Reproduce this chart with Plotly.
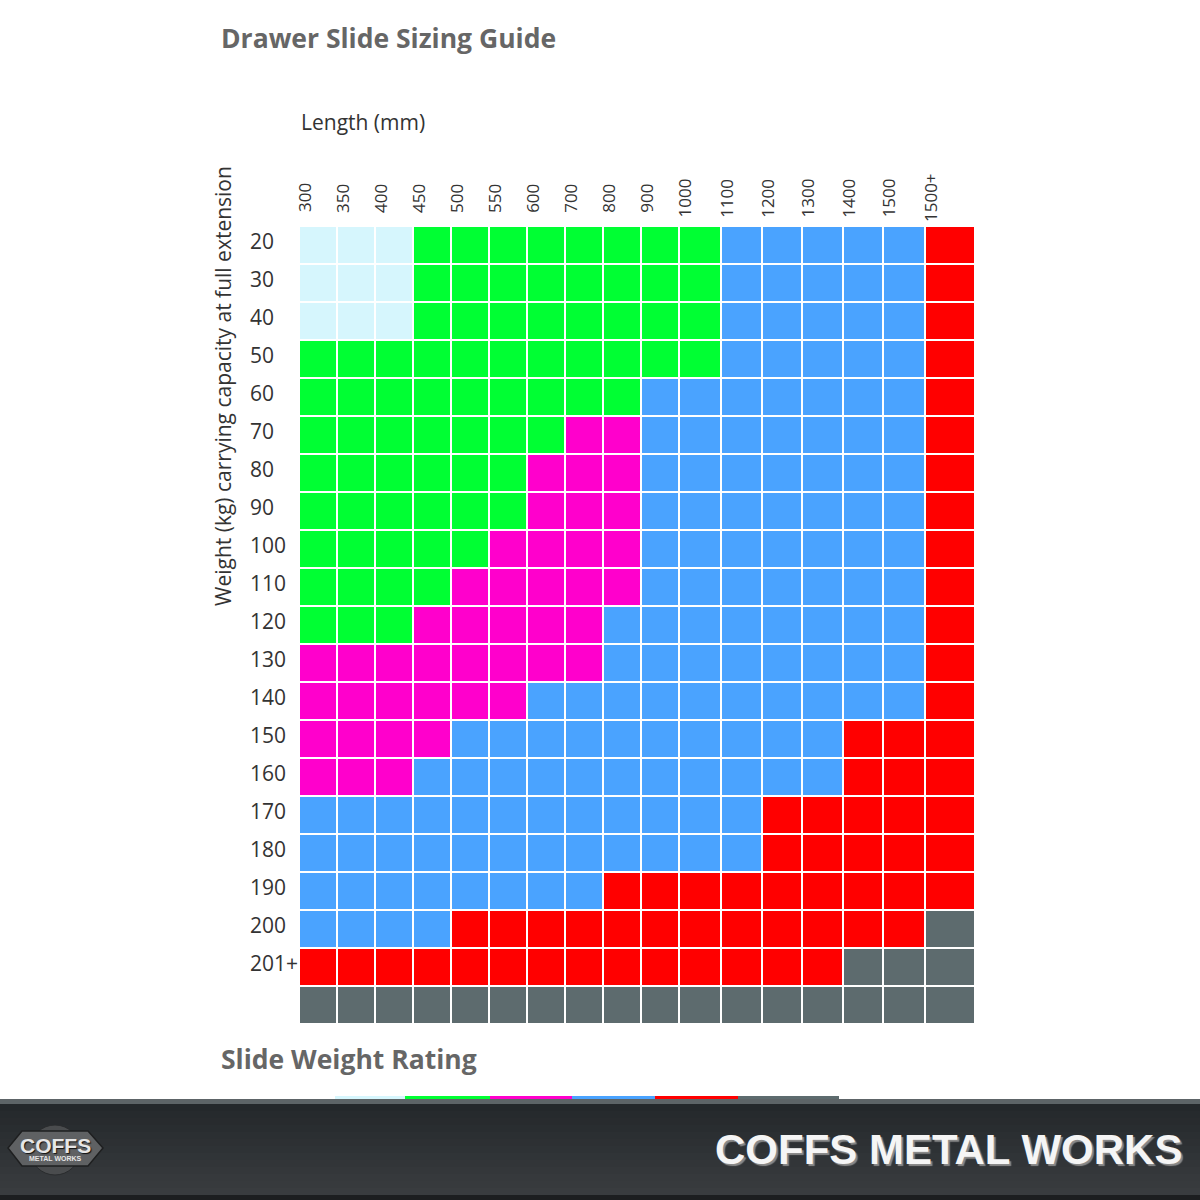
import plotly.graph_objects as go

# ---------------- data ----------------
LENGTHS = ["300", "350", "400", "450", "500", "550", "600", "700", "800", "900",
           "1000", "1100", "1200", "1300", "1400", "1500", "1500+"]
WEIGHTS = ["20", "30", "40", "50", "60", "70", "80", "90", "100", "110", "120",
           "130", "140", "150", "160", "170", "180", "190", "200", "201+", ""]

# rating code per cell (row = weight, column = length)
RATING_CODES = ["C", "G", "M", "B", "R", "X"]
RATING_COLORS = ["#d6f6fd", "#00ff33", "#ff00cc", "#4aa3ff", "#ff0000", "#5d6b6e"]

GRID = [
    "CCCGGGGGGGGBBBBBR",  # 20
    "CCCGGGGGGGGBBBBBR",  # 30
    "CCCGGGGGGGGBBBBBR",  # 40
    "GGGGGGGGGGGBBBBBR",  # 50
    "GGGGGGGGGBBBBBBBR",  # 60
    "GGGGGGGMMBBBBBBBR",  # 70
    "GGGGGGMMMBBBBBBBR",  # 80
    "GGGGGGMMMBBBBBBBR",  # 90
    "GGGGGMMMMBBBBBBBR",  # 100
    "GGGGMMMMMBBBBBBBR",  # 110
    "GGGMMMMMBBBBBBBBR",  # 120
    "MMMMMMMMBBBBBBBBR",  # 130
    "MMMMMMBBBBBBBBBBR",  # 140
    "MMMMBBBBBBBBBBRRR",  # 150
    "MMMBBBBBBBBBBBRRR",  # 160
    "BBBBBBBBBBBBRRRRR",  # 170
    "BBBBBBBBBBBBRRRRR",  # 180
    "BBBBBBBBRRRRRRRRR",  # 190
    "BBBBRRRRRRRRRRRRX",  # 200
    "RRRRRRRRRRRRRRXXX",  # 201+
    "XXXXXXXXXXXXXXXXX",  # (blank)
]

# ---------------- layout constants ----------------
COL_WIDTHS_PX = [38, 38, 38, 38, 38, 38, 38, 38, 38, 38.7, 41.4, 41, 40.6, 40.4, 40.6, 41.7, 50]
FIG_W, FIG_H = 1200, 1200
PLOT_L, PLOT_R, PLOT_T, PLOT_B = 299, 975, 226, 1024
PW, PH = PLOT_R - PLOT_L, PLOT_B - PLOT_T

def pxx(x):
    return (x - PLOT_L) / PW

def pxy(y):
    return (PLOT_B - y) / PH

assert all(len(r) == len(LENGTHS) for r in GRID) and len(GRID) == len(WEIGHTS)

edges = [0.0]
for w in COL_WIDTHS_PX:
    edges.append(edges[-1] + w)

z = [[RATING_CODES.index(c) for c in row] for row in GRID]
n = len(RATING_COLORS)
colorscale = []
for i, c in enumerate(RATING_COLORS):
    colorscale.append([i / n, c])
    colorscale.append([(i + 1) / n, c])

TEXT = "#333333"
HEAD = "#666666"
FONT = "Open Sans"

fig = go.Figure(go.Heatmap(
    z=z, x=edges, y=list(range(len(WEIGHTS))),
    colorscale=colorscale, zmin=-0.5, zmax=n - 0.5,
    xgap=2, ygap=2, showscale=False, hoverinfo="skip",
))

ann = []
# column header labels (rotated)
for i, lab in enumerate(LENGTHS):
    ann.append(dict(x=edges[i] + 6, xref="x", y=pxy(198), yref="paper",
                    text=lab, textangle=-90, showarrow=False,
                    xanchor="center", yanchor="middle",
                    font=dict(family=FONT, size=17, color=TEXT)))
# row labels (left aligned)
for j, lab in enumerate(WEIGHTS):
    if lab:
        ann.append(dict(x=pxx(248), xref="paper", y=j, yref="y", yshift=4,
                        text=lab, showarrow=False, xanchor="left", yanchor="middle",
                        font=dict(family=FONT, size=21, color=TEXT)))
# axis titles
ann.append(dict(x=pxx(299), xref="paper", y=pxy(122), yref="paper", text="Length (mm)",
                showarrow=False, xanchor="left", yanchor="middle",
                font=dict(family=FONT, size=21, color=TEXT)))
ann.append(dict(x=pxx(223), xref="paper", y=pxy(386), yref="paper",
                text="Weight (kg) carrying capacity at full extension", textangle=-90,
                showarrow=False, xanchor="center", yanchor="middle",
                font=dict(family=FONT, size=21, color=TEXT)))
# headings
ann.append(dict(x=pxx(219), xref="paper", y=pxy(38), yref="paper",
                text="<b>Drawer Slide Sizing Guide</b>", showarrow=False,
                xanchor="left", yanchor="middle",
                font=dict(family=FONT, size=26.5, color=HEAD)))
ann.append(dict(x=pxx(219), xref="paper", y=pxy(1059), yref="paper",
                text="<b>Slide Weight Rating</b>", showarrow=False,
                xanchor="left", yanchor="middle",
                font=dict(family=FONT, size=26.5, color=HEAD)))

shapes = []
# rating colour strip (legend, cut off by footer)
LEG_WIDTHS_PX = [70, 85, 82, 83, 83, 101]
lx = 335
for c, w in zip(RATING_COLORS, LEG_WIDTHS_PX):
    shapes.append(dict(type="rect", xref="paper", yref="paper",
                       x0=pxx(lx), x1=pxx(lx + w), y0=pxy(1099), y1=pxy(1096),
                       fillcolor=c, line=dict(width=0), layer="above"))
    lx += w

# footer
shapes.append(dict(type="rect", xref="paper", yref="paper", x0=pxx(0), x1=pxx(FIG_W),
                   y0=pxy(1104), y1=pxy(1099), fillcolor="#5d6467",
                   line=dict(width=0), layer="above"))
top_rgb, bot_rgb = (0x24, 0x28, 0x2b), (0x39, 0x3c, 0x3f)
NB = 13
for k in range(NB):
    t = k / (NB - 1)
    col = "rgb(%d,%d,%d)" % tuple(round(a + (b - a) * t) for a, b in zip(top_rgb, bot_rgb))
    y0 = 1104 + k * 91 / NB
    shapes.append(dict(type="rect", xref="paper", yref="paper", x0=pxx(0), x1=pxx(FIG_W),
                       y0=pxy(y0 + 91 / NB + 0.5), y1=pxy(y0), fillcolor=col,
                       line=dict(width=0), layer="above"))
shapes.append(dict(type="rect", xref="paper", yref="paper", x0=pxx(0), x1=pxx(FIG_W),
                   y0=pxy(FIG_H + 2), y1=pxy(1195), fillcolor="#1c1e20",
                   line=dict(width=0), layer="above"))

# logo
shapes.append(dict(type="circle", xref="paper", yref="paper",
                   x0=pxx(30), x1=pxx(80), y0=pxy(1175), y1=pxy(1125),
                   fillcolor="#4a4c4e", line=dict(color="#2a2c2e", width=1), layer="above"))
hexpts = [(8, 1148), (22, 1131), (88, 1131), (103, 1148), (88, 1166), (22, 1166)]
path = "M " + " L ".join("%f,%f" % (pxx(a), pxy(b)) for a, b in hexpts) + " Z"
shapes.append(dict(type="path", xref="paper", yref="paper", path=path,
                   fillcolor="#5f6163", line=dict(color="#1e1f20", width=1.5), layer="above"))
ann.append(dict(x=pxx(55), xref="paper", y=pxy(1145), yref="paper", text="<b>COFFS</b>",
                showarrow=False, xanchor="center", yanchor="middle",
                font=dict(family="Liberation Sans", size=21, color="#e6e6e6",
                          shadow="1px 1px 1px #111")))
ann.append(dict(x=pxx(55), xref="paper", y=pxy(1158), yref="paper", text="<b>METAL WORKS</b>",
                showarrow=False, xanchor="center", yanchor="middle",
                font=dict(family="Liberation Sans", size=7, color="#e6e6e6")))
ann.append(dict(x=pxx(1184), xref="paper", y=pxy(1149), yref="paper",
                text="<b>COFFS METAL WORKS</b>", showarrow=False,
                xanchor="right", yanchor="middle",
                font=dict(family="Liberation Sans", size=42, color="#f5f5f5",
                          shadow="2px 2px 1px #8a8a8a")))

fig.update_layout(
    width=FIG_W, height=FIG_H,
    margin=dict(l=PLOT_L, r=FIG_W - PLOT_R, t=PLOT_T, b=FIG_H - PLOT_B, pad=0),
    paper_bgcolor="white", plot_bgcolor="white",
    xaxis=dict(range=[edges[0], edges[-1]], visible=False, fixedrange=True),
    yaxis=dict(range=[len(WEIGHTS) - 0.5, -0.5], visible=False, fixedrange=True),
    annotations=ann, shapes=shapes, showlegend=False,
)

fig.write_html("out.html")
